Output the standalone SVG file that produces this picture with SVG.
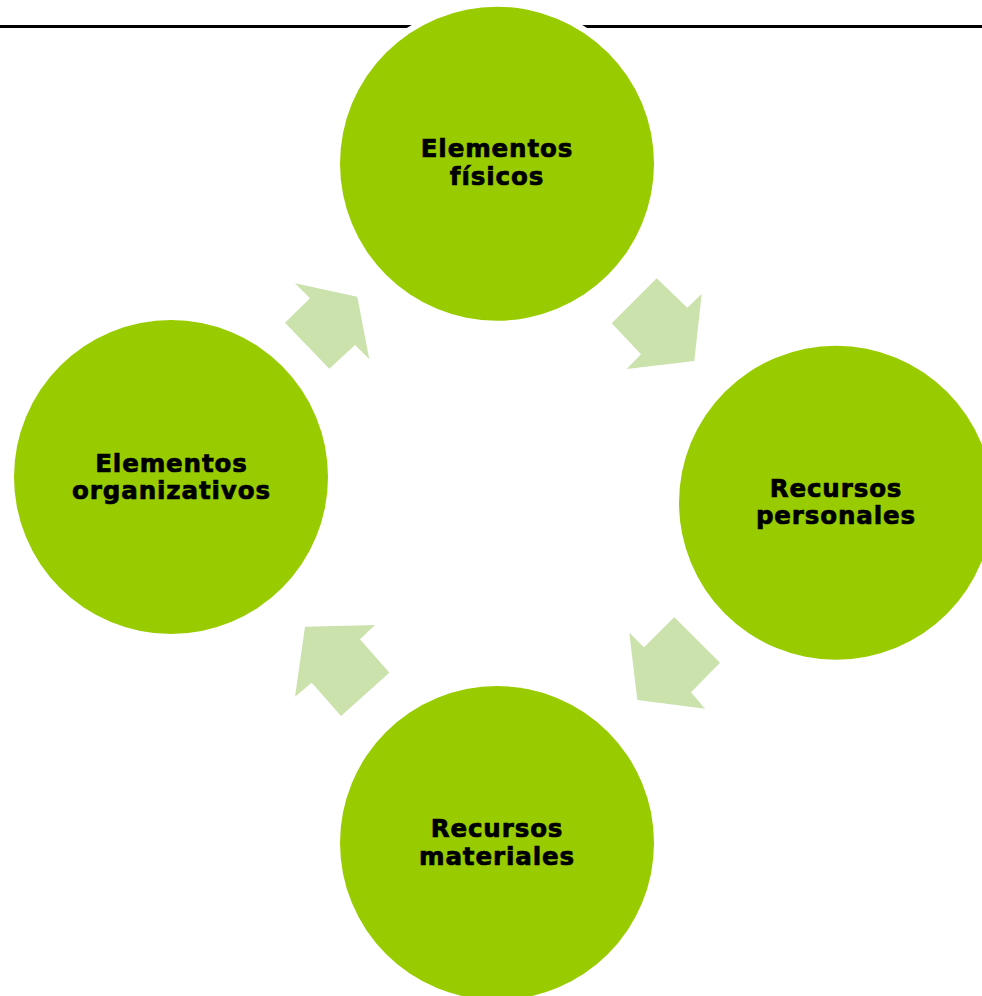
<svg xmlns="http://www.w3.org/2000/svg" width="982" height="996" viewBox="0 0 982 996">
  <style>
    .node { fill: #99cc00; }
    .halo { fill: #ffffff; }
    .arrow { fill: #cbe2ad; }
    .label { font-family: "DejaVu Sans", Verdana, sans-serif; font-weight: 700; font-size: 24.5px; letter-spacing: 0.9px; fill: #000000; stroke: #000000; stroke-width: 0.7px; text-anchor: middle; }
  </style>
  <rect width="982" height="996" fill="#ffffff"/>
  <!-- page rule -->
  <line x1="0" y1="26.5" x2="982" y2="26.5" stroke="#000000" stroke-width="3"/>

  <!-- connectors -->
  <g id="connectors">
    <polygon class="arrow" points="656.7,278.3 687.3,307.7 701.7,294 694.3,361 626.7,369 641,354.3 611.7,323.3"/>
    <polygon class="arrow" points="674.3,617.3 720,662.7 691,692.3 705,708.7 637.3,700 629.3,632.7 644,647.3"/>
    <polygon class="arrow" points="375,625 360,639.3 389.3,672.7 341,716 311.7,682.7 295,696.7 305,626.7"/>
    <polygon class="arrow" points="295,283.3 357.3,296.7 369.3,359.3 355,345 329.3,368.7 285,322.7 310,298.3"/>
  </g>

  <g id="node-fisicos">
    <circle class="halo" cx="497" cy="163.7" r="163"/>
    <circle class="node" cx="497" cy="163.7" r="157"/>
    <text class="label" x="497" y="157">Elementos</text>
    <text class="label" x="497" y="185">físicos</text>
  </g>

  <g id="node-personales">
    <circle class="halo" cx="836" cy="502.7" r="163"/>
    <circle class="node" cx="836" cy="502.7" r="157"/>
    <text class="label" x="836" y="496.5">Recursos</text>
    <text class="label" x="836" y="524">personales</text>
  </g>

  <g id="node-materiales">
    <circle class="halo" cx="497" cy="843" r="163"/>
    <circle class="node" cx="497" cy="843" r="157"/>
    <text class="label" x="497" y="836.5">Recursos</text>
    <text class="label" x="497" y="864.5">materiales</text>
  </g>

  <g id="node-organizativos">
    <circle class="halo" cx="171" cy="477" r="163"/>
    <circle class="node" cx="171" cy="477" r="157"/>
    <text class="label" x="171.5" y="471.5">Elementos</text>
    <text class="label" x="171.5" y="499">organizativos</text>
  </g>
</svg>
